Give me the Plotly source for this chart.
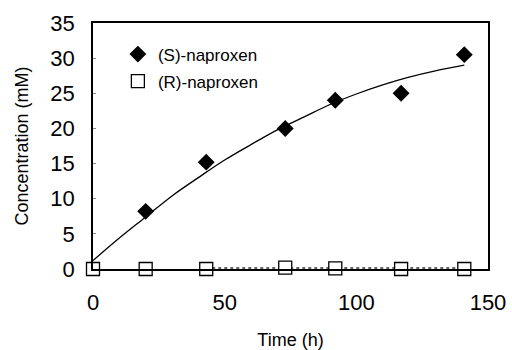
import plotly.graph_objects as go

# Data
time_s = [20, 43, 73, 92, 117, 141]
conc_s = [8.2, 15.2, 20.0, 24.0, 25.0, 30.5]

time_r = [0, 20, 43, 73, 92, 117, 141]
conc_r = [0.0, 0.0, 0.0, 0.2, 0.1, 0.0, 0.0]

fit_s_t = [0, 10, 20, 30, 40, 50, 60, 70, 80, 90, 100, 110, 120, 130, 141]
fit_s_c = [1.2, 4.4, 7.4, 10.4, 13.0, 15.5, 17.7, 19.8, 21.6, 23.4, 24.9, 26.2, 27.3, 28.2, 29.0]

fit_r_t = [43, 141]
fit_r_c = [0.15, 0.15]

x_ticks = [0, 50, 100, 150]
y_ticks = [0, 5, 10, 15, 20, 25, 30, 35]

fig = go.Figure()

fig.add_trace(go.Scatter(x=fit_s_t, y=fit_s_c, mode="lines",
                         line=dict(color="black", width=1.3, shape="spline"),
                         showlegend=False, hoverinfo="skip"))
fig.add_trace(go.Scatter(x=fit_r_t, y=fit_r_c, mode="lines",
                         line=dict(color="#333", width=1.5, dash="dot"),
                         showlegend=False, hoverinfo="skip"))
fig.add_trace(go.Scatter(x=time_s, y=conc_s, mode="markers", name="(S)-naproxen",
                         legendgroup="s",
                         marker=dict(symbol="diamond", size=13, color="black"),
                         cliponaxis=False))
fig.add_trace(go.Scatter(x=time_r, y=conc_r, mode="markers", name="(R)-naproxen",
                         legendgroup="r",
                         marker=dict(symbol="square", size=13, color="white",
                                     line=dict(color="black", width=1.3)),
                         cliponaxis=False))

fig.update_layout(
    width=512, height=350,
    margin=dict(l=93, r=24, t=23, b=81),
    paper_bgcolor="white", plot_bgcolor="white",
    font=dict(family="Liberation Sans, Arial, sans-serif", color="black"),
    showlegend=True,
    legend=dict(x=0.063, y=0.945, xanchor="left", yanchor="top",
                font=dict(size=17), bgcolor="rgba(0,0,0,0)",
                tracegroupgap=2, traceorder="grouped"),
    xaxis=dict(range=[0, 150], tickvals=x_ticks, ticks="", showgrid=False,
               zeroline=False, showline=True, linecolor="black", linewidth=1.5,
               mirror=True, tickfont=dict(size=22), automargin=False,
               ticklabelstandoff=13,
               title=dict(text="Time (h)", font=dict(size=18), standoff=19)),
    yaxis=dict(range=[0, 35], tickvals=y_ticks, ticks="inside", ticklen=3,
               tickcolor="#888", showgrid=False, zeroline=False, showline=True,
               linecolor="black", linewidth=1.5, mirror=True,
               tickfont=dict(size=22), automargin=False, ticklabelstandoff=12,
               title=dict(text="Concentration (mM)", font=dict(size=18), standoff=17)),
)

fig.write_html("out.html", config={"displayModeBar": False},
               post_script="document.body.style.margin='0';")
